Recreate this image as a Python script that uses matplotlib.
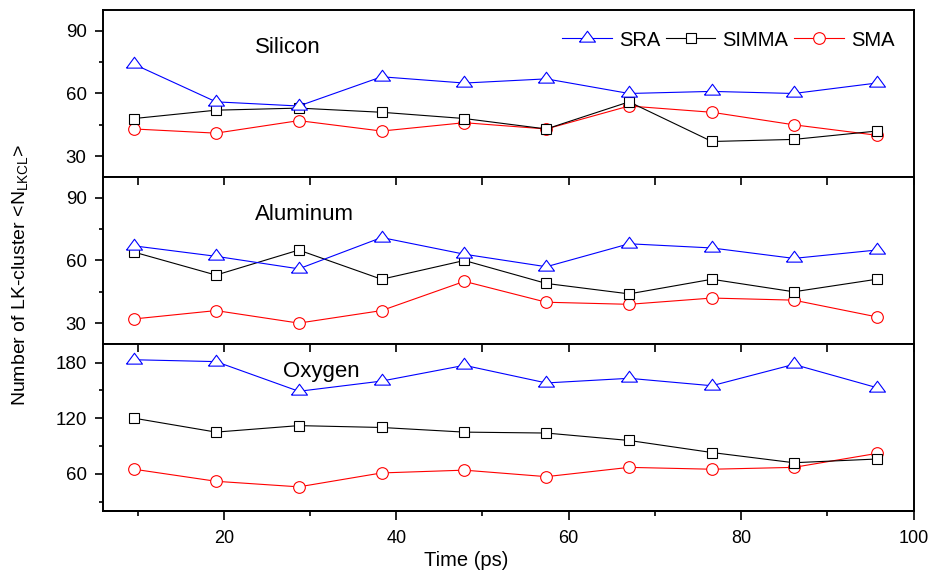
import matplotlib
matplotlib.use("Agg")
import matplotlib.pyplot as plt
from matplotlib.ticker import MultipleLocator, FixedLocator

plt.rcParams['font.family'] = ['Liberation Sans', 'DejaVu Sans']
plt.rcParams['mathtext.default'] = 'regular'

time_ps = [9.6, 19.1, 28.7, 38.3, 47.9, 57.4, 67.0, 76.6, 86.1, 95.7]

si_sra = [74, 56, 54, 68, 65, 67, 60, 61, 60, 65]
si_simma = [48, 52, 53, 51, 48, 43, 56, 37, 38, 42]
si_sma = [43, 41, 47, 42, 46, 43, 54, 51, 45, 40]

al_sra = [67, 62, 56, 71, 63, 57, 68, 66, 61, 65]
al_simma = [64, 53, 65, 51, 60, 49, 44, 51, 45, 51]
al_sma = [32, 36, 30, 36, 50, 40, 39, 42, 41, 33]

o_sra = [183, 181, 149, 160, 177, 158, 163, 155, 178, 153]
o_simma = [120, 105, 112, 110, 105, 104, 96, 83, 72, 76]
o_sma = [65, 52, 46, 61, 64, 57, 67, 65, 67, 82]

x_major = [20, 40, 60, 80, 100]
x_minor = [10, 30, 50, 70, 90]

series_names = ['SRA', 'SIMMA', 'SMA']
panel_names = ['Silicon', 'Aluminum', 'Oxygen']

fig = plt.figure(figsize=(9.4, 5.74), dpi=100)
gs = fig.add_gridspec(3, 1, left=0.1096, right=0.972, top=0.9826, bottom=0.1098, hspace=0)
axes = [fig.add_subplot(gs[i]) for i in range(3)]

h = 1.36
tri = [(-1, -h / 3), (1, -h / 3), (0, 2 * h / 3), (-1, -h / 3)]
styles = [
    dict(color='#0000FF', marker=tri, markersize=11.5, zorder=4),
    dict(color='black', marker='s', markersize=6.6, zorder=3),
    dict(color='#FF0000', marker='o', markersize=8.4, zorder=2),
]

data = [
    (si_sra, si_simma, si_sma),
    (al_sra, al_simma, al_sma),
    (o_sra, o_simma, o_sma),
]
ylims = [(20, 100), (20, 100), (20, 200)]
majors = [[30, 60, 90], [30, 60, 90], [60, 120, 180]]
minors = [[45, 75], [45, 75], [30, 90, 150]]
label_pos = [(23.6, 82), (23.6, 82), (26.9, 170)]

TICK_FS = 13.5

for i, ax in enumerate(axes):
    for name, vals, st in zip(series_names, data[i], styles):
        ax.plot(time_ps, vals, label=name, linewidth=0.8, markerfacecolor='white',
                markeredgewidth=0.8, markeredgecolor=st['color'], **st)
    ax.set_xlim(6, 100)
    ax.set_ylim(*ylims[i])
    ax.yaxis.set_major_locator(FixedLocator(majors[i]))
    ax.yaxis.set_minor_locator(FixedLocator(minors[i]))
    ax.xaxis.set_major_locator(FixedLocator(x_major))
    ax.xaxis.set_minor_locator(FixedLocator(x_minor))
    for sp in ax.spines.values():
        sp.set_linewidth(1.4)
    ax.tick_params(axis='y', which='major', direction='out', length=5.8, width=1.2,
                   labelsize=TICK_FS, pad=6)
    ax.tick_params(axis='y', which='minor', direction='out', length=3, width=1.2)
    if i == 0:
        ax.tick_params(axis='x', which='both', bottom=False, top=False, labelbottom=False)
    else:
        ax.tick_params(axis='x', which='both', top=True, bottom=False, labelbottom=False,
                       direction='in', length=5.5, width=1.2)
    ax.text(label_pos[i][0], label_pos[i][1], panel_names[i], fontsize=16,
            ha='left', va='center')

# bottom axis of last panel: outward ticks with labels
sec = axes[2].secondary_xaxis('bottom')
sec.xaxis.set_major_locator(FixedLocator(x_major))
sec.xaxis.set_minor_locator(FixedLocator(x_minor))
sec.spines['bottom'].set_linewidth(1.4)
sec.tick_params(axis='x', which='major', direction='out', length=6.5, width=1.2,
                labelsize=13, pad=7)
sec.tick_params(axis='x', which='minor', direction='out', length=3.3, width=1.2)

leg = axes[0].legend(loc='center right', bbox_to_anchor=(0.976, 0.82), ncol=3,
                     frameon=False, fontsize=14.5, handlelength=2.45, handletextpad=0.35,
                     columnspacing=0.3, borderaxespad=0, borderpad=0, numpoints=1)

fig.text(0.496, 0.024, 'Time (ps)', fontsize=14.5, ha='center', va='center')
fig.text(0.021, 0.521, 'Number of LK-cluster <N$_{LKCL}$>', fontsize=14,
         rotation=90, ha='center', va='center')

fig.savefig('out.png', dpi=100)
